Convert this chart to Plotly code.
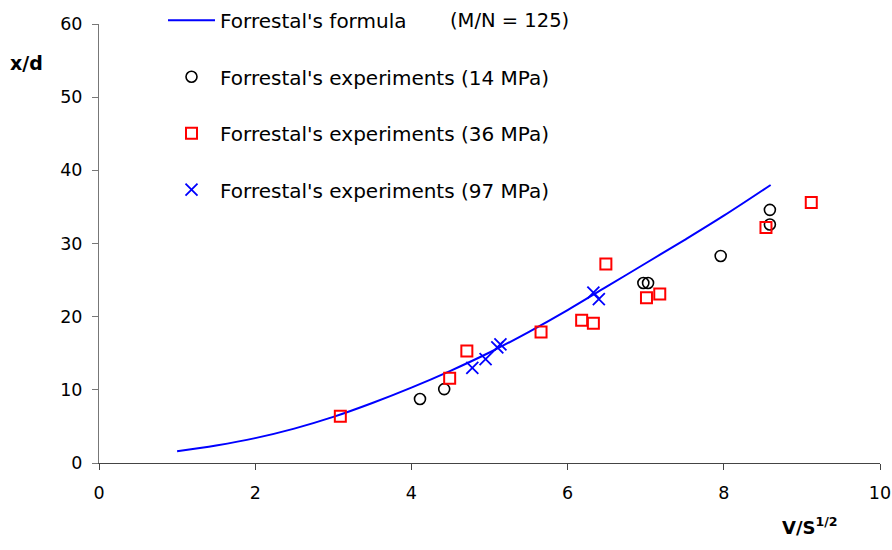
import plotly.graph_objects as go

# Forrestal's penetration formula curve (M/N = 125)
formula_v = [1.0, 1.5, 2.0, 2.5, 3.0, 3.5, 4.0, 4.5, 5.0, 5.5, 6.0, 6.5, 7.0, 7.5, 8.0, 8.6]
formula_xd = [1.6, 2.4, 3.4, 4.7, 6.3, 8.2, 10.3, 12.6, 15.1, 17.9, 20.9, 24.1, 27.3, 30.5, 33.8, 38.0]

# Experimental data, 14 MPa
exp14_v = [4.11, 4.42, 6.97, 7.03, 7.96, 8.59, 8.59]
exp14_xd = [8.75, 10.1, 24.6, 24.6, 28.3, 34.6, 32.6]

# Experimental data, 36 MPa
exp36_v = [3.09, 4.49, 4.71, 5.66, 6.18, 6.33, 6.49, 7.01, 7.18, 8.54, 9.12]
exp36_xd = [6.4, 11.6, 15.3, 17.9, 19.5, 19.1, 27.2, 22.6, 23.1, 32.2, 35.6]

# Experimental data, 97 MPa
exp97_v = [4.78, 4.95, 5.10, 5.14, 6.33, 6.40]
exp97_xd = [13.0, 14.2, 15.8, 16.2, 23.3, 22.4]

x_ticks = [0, 2, 4, 6, 8, 10]
y_ticks = [0, 10, 20, 30, 40, 50, 60]

FONT = "DejaVu Sans, Arial, sans-serif"

# plot-area geometry in pixels, used to place the paper-referenced labels
L, T, W, H = 99, 24, 781, 439


def px_x(p):
    return (p - L) / W


def px_y(p):
    return (T + H - p) / H


fig = go.Figure()
fig.add_trace(go.Scatter(
    x=formula_v, y=formula_xd, mode="lines", name="Forrestal's formula",
    line=dict(color="#0000ff", width=2, shape="spline", smoothing=1.0), legendgroup="a"))
fig.add_trace(go.Scatter(
    x=exp14_v, y=exp14_xd, mode="markers", name="Forrestal's experiments (14 MPa)",
    marker=dict(symbol="circle-open", size=11, color="#000000", line=dict(width=1.6)),
    legendgroup="b"))
fig.add_trace(go.Scatter(
    x=exp36_v, y=exp36_xd, mode="markers", name="Forrestal's experiments (36 MPa)",
    marker=dict(symbol="square-open", size=11, color="#ff0000", line=dict(width=2)),
    legendgroup="c"))
fig.add_trace(go.Scatter(
    x=exp97_v, y=exp97_xd, mode="markers", name="Forrestal's experiments (97 MPa)",
    marker=dict(symbol="x-thin-open", size=12, color="#0000ff", line=dict(width=1.8, color="#0000ff")),
    legendgroup="d"))

fig.update_layout(
    width=892, height=550,
    margin=dict(l=L, r=892 - L - W, t=T, b=550 - T - H, autoexpand=False),
    paper_bgcolor="white", plot_bgcolor="white",
    font=dict(family=FONT, size=17.5, color="#000000"),
    showlegend=True,
    legend=dict(
        x=px_x(163), y=1.053, xanchor="left", yanchor="top",
        bgcolor="rgba(0,0,0,0)", font=dict(size=20, family=FONT),
        tracegroupgap=27.5, itemwidth=47),
    xaxis=dict(
        range=[0, 10], tickvals=x_ticks, ticks="outside", ticklen=6,
        tickcolor="#444444", showline=True, linecolor="#444444", linewidth=1,
        showgrid=False, zeroline=False, ticklabelstandoff=8,
        tickfont=dict(size=17.5, family=FONT)),
    yaxis=dict(
        range=[0, 60], tickvals=y_ticks, ticks="outside", ticklen=6,
        tickcolor="#777777", showline=True, linecolor="#777777", linewidth=1,
        showgrid=False, zeroline=False, ticklabelstandoff=6,
        tickfont=dict(size=17.5, family=FONT)),
    annotations=[
        dict(text="(M/N = 125)", xref="paper", yref="paper",
             x=px_x(448), y=px_y(20), xanchor="left", yanchor="middle",
             showarrow=False, font=dict(size=19.5, family=FONT)),
        dict(text="<b>x/d</b>", xref="paper", yref="paper",
             x=px_x(8), y=px_y(63), xanchor="left", yanchor="middle",
             showarrow=False, font=dict(size=19, family=FONT)),
        dict(text="<b>V/S<sup>1/2</sup></b>", xref="paper", yref="paper",
             x=px_x(780), y=px_y(526), xanchor="left", yanchor="middle",
             showarrow=False, font=dict(size=18, family=FONT)),
    ],
)

fig.write_html("out.html")
